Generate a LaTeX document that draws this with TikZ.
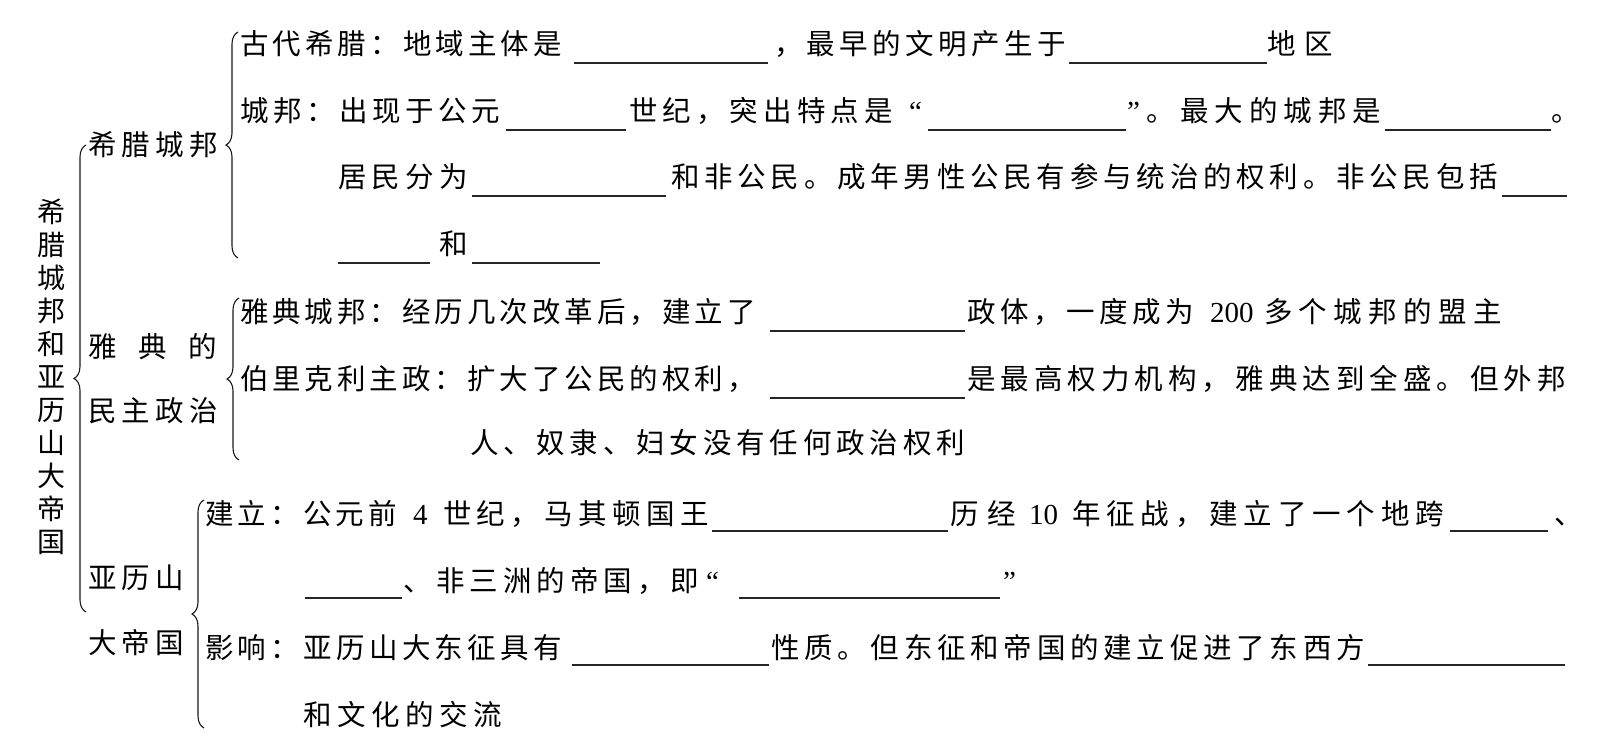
\documentclass[tikz,border=0pt]{standalone}
\usepackage{fontspec}
\newfontfamily\cjk{Noto Sans CJK SC}
\newfontfamily\lat{Liberation Serif}
\usetikzlibrary{decorations.pathreplacing}
\makeatletter
\def\spreadtext#1{\spr@a#1\relax}
\def\spr@a#1{#1\spr@b}
\def\spr@b#1{\ifx\relax#1\else\hfil#1\expandafter\spr@b\fi}
\makeatother
\newcommand\sx[2]{\hbox to #1pt{\spreadtext{#2}}}
\tikzset{
  txt/.style={anchor=west, inner sep=0pt, outer sep=0pt, text height=25.1pt, text depth=3.4pt, font={\cjk\fontsize{28.5}{32}\selectfont}, text=black},
  num/.style={txt, font={\lat\fontsize{29}{32}\selectfont}},
  blank/.style={line width=1.3pt, draw=black!85},
  brc/.style={decorate, decoration={brace, amplitude=12pt}, line width=1.1pt, draw=black!90},
}
\begin{document}
\begin{tikzpicture}[x=1pt,y=-1pt]
\fill[white] (0,0) rectangle (1604,750);
\useasboundingbox (0,0) rectangle (1604,750);

% title
\node[inner sep=0pt, align=center, font={\cjk\fontsize{28}{33}\selectfont}] (title) at (51.5,376.5) {希\\腊\\城\\邦\\和\\亚\\历\\山\\大\\帝\\国};

% level 2 labels
\node[txt] (l1) at (88,145) {\sx{130}{希腊城邦}};
\node[txt] (l2) at (88,347) {\sx{129}{雅典的}};
\node[txt] (l3) at (88,411) {\sx{130}{民主政治}};
\node[txt] (l4) at (88,578) {\sx{96}{亚历山}};
\node[txt] (l5) at (88,643) {\sx{96}{大帝国}};

% braces
\coordinate (oB) at (86,612); \coordinate (oT) at (86,145);
\coordinate (aB) at (238,258); \coordinate (aT) at (238,32);
\coordinate (bB) at (239,460); \coordinate (bT) at (239,298);
\coordinate (cB) at (204,728); \coordinate (cT) at (204,500);
\draw[brc] (oB) -- (oT);
\draw[brc] (aB) -- (aT);
\draw[brc] (bB) -- (bT);
\draw[brc] (cB) -- (cT);

% section 1
\node[txt] (a1) at (240,44) {\sx{322}{古代希腊：地域主体是}};
\draw[blank] (574,63) -- (768,63);
\node[txt] (a2) at (774,44) {\sx{292}{，最早的文明产生于}};
\draw[blank] (1069,63) -- (1267,63);
\node[txt] (a3) at (1267,44) {\sx{66}{地区}};

\node[txt] (b1) at (240,111) {\sx{260}{城邦：出现于公元}};
\draw[blank] (506,130) -- (626,130);
\node[txt] (b2) at (629,111) {\sx{264}{世纪，突出特点是}};
\node[num] (b3) at (909,111) {“};
\draw[blank] (928,130) -- (1126,130);
\node[num] (b4) at (1127,111) {”};
\node[txt] (b5) at (1146,111) {\sx{235}{。最大的城邦是}};
\draw[blank] (1385,130) -- (1551,130);
\node[txt] (b6) at (1551,111) {。};

\node[txt] (c1) at (338,177) {\sx{130}{居民分为}};
\draw[blank] (472,196) -- (666,196);
\node[txt] (c2) at (671,177) {\sx{827}{和非公民。成年男性公民有参与统治的权利。非公民包括}};
\draw[blank] (1502,196) -- (1567,196);

\draw[blank] (338,263) -- (430,263);
\node[txt] (d1) at (439,244) {和};
\draw[blank] (472,263) -- (600,263);

% section 2
\node[txt] (e1) at (240,312) {\sx{516}{雅典城邦：经历几次改革后，建立了}};
\draw[blank] (770,331) -- (965,331);
\node[txt] (e2) at (967,312) {\sx{227}{政体，一度成为}};
\node[num] (e3) at (1210,312) {200};
\node[txt] (e4) at (1264,312) {\sx{238}{多个城邦的盟主}};

\node[txt] (f1) at (240,379) {\sx{516}{伯里克利主政：扩大了公民的权利，}};
\draw[blank] (770,398) -- (965,398);
\node[txt] (f2) at (967,379) {\sx{599}{是最高权力机构，雅典达到全盛。但外邦}};

\node[txt] (g1) at (470,443) {\sx{495}{人、奴隶、妇女没有任何政治权利}};

% section 3
\node[txt] (h1) at (205,514) {\sx{192}{建立：公元前}};
\node[num] (h2) at (413,514) {4};
\node[txt] (h3) at (443,514) {\sx{266}{世纪，马其顿国王}};
\draw[blank] (712,531) -- (948,531);
\node[txt] (h4) at (950,514) {\sx{66}{历经}};
\node[num] (h5) at (1029,514) {10};
\node[txt] (h6) at (1072,514) {\sx{372}{年征战，建立了一个地跨}};
\draw[blank] (1450,531) -- (1548,531);
\node[txt] (h7) at (1554,514) {、};

\draw[blank] (305,598) -- (402,598);
\node[txt] (i1) at (403,581) {\sx{296}{、非三洲的帝国，即}};
\node[num] (i2) at (706,581) {“};
\draw[blank] (739,598) -- (1000,598);
\node[num] (i3) at (1003,581) {”};

\node[txt] (j1) at (205,648) {\sx{357}{影响：亚历山大东征具有}};
\draw[blank] (572,665) -- (769,665);
\node[txt] (j2) at (771,648) {\sx{594}{性质。但东征和帝国的建立促进了东西方}};
\draw[blank] (1368,665) -- (1565,665);

\node[txt] (k1) at (303,715) {\sx{199}{和文化的交流}};
\end{tikzpicture}
\end{document}
